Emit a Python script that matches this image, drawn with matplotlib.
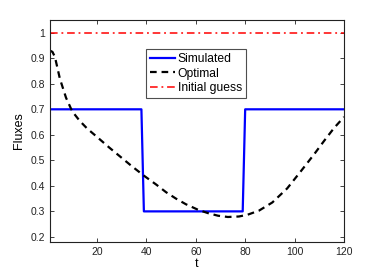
import numpy as np
import matplotlib
matplotlib.use("Agg")
import matplotlib.pyplot as plt

plt.rcParams['font.family'] = ['Liberation Sans', 'DejaVu Sans']

# step profile (simulated)
sim_t = [1, 38, 39, 79, 80, 120]
sim_y = [0.7, 0.7, 0.3, 0.3, 0.7, 0.7]

# optimal curve
opt_t = [1, 2, 3, 5, 7.5, 10, 13, 16, 20, 25, 30, 34, 39, 44, 48, 52, 56,
         61, 65, 69, 73, 77.5, 81, 85.6, 91, 97, 103, 108, 112, 116, 120]
opt_y = [0.93, 0.925, 0.905, 0.82, 0.745, 0.692, 0.655, 0.625, 0.592, 0.55,
         0.51, 0.478, 0.44, 0.405, 0.375, 0.35, 0.328, 0.306, 0.293, 0.283,
         0.278, 0.28, 0.287, 0.303, 0.335, 0.39, 0.463, 0.525, 0.577, 0.627,
         0.67]

guess_t = [1, 120]
guess_y = [1.0, 1.0]

fig = plt.figure(figsize=(3.82, 2.73), dpi=100)
ax = fig.add_axes([50/382, 1 - 242/273, 294/382, 222/273])

ax.plot(sim_t, sim_y, color='#0000ff', lw=1.6, label='Simulated')
ax.plot(opt_t, opt_y, color='k', lw=1.6, ls=(0, (3, 2.2)), label='Optimal')
ax.plot(guess_t, guess_y, color='#ff0000', lw=1.1, ls=(0, (5, 2.5, 1.2, 2.5)),
        label='Initial guess')

ax.set_xlim(1, 120)
ax.set_ylim(0.18, 1.05)
ax.set_xticks([20, 40, 60, 80, 100, 120])
ax.set_yticks([0.2, 0.3, 0.4, 0.5, 0.6, 0.7, 0.8, 0.9, 1.0])
ax.set_yticklabels(['0.2', '0.3', '0.4', '0.5', '0.6', '0.7', '0.8', '0.9', '1'])
ax.tick_params(direction='in', top=True, right=True, labelsize=7.5,
               length=3, width=0.6, colors='#222222')
for s in ax.spines.values():
    s.set_linewidth(0.8)
    s.set_color('#222222')

ax.set_xlabel('t', fontsize=9, labelpad=1)
ax.set_ylabel('Fluxes', fontsize=9, labelpad=4)

leg = ax.legend(loc='upper left', bbox_to_anchor=(0.325, 0.87), borderaxespad=0,
                fontsize=8.7, frameon=True, fancybox=False, handlelength=2.05,
                handletextpad=0.25, borderpad=0.35, labelspacing=0.2)
leg.get_frame().set_edgecolor('#222222')
leg.get_frame().set_linewidth(0.8)

fig.savefig('out.png', dpi=100)
